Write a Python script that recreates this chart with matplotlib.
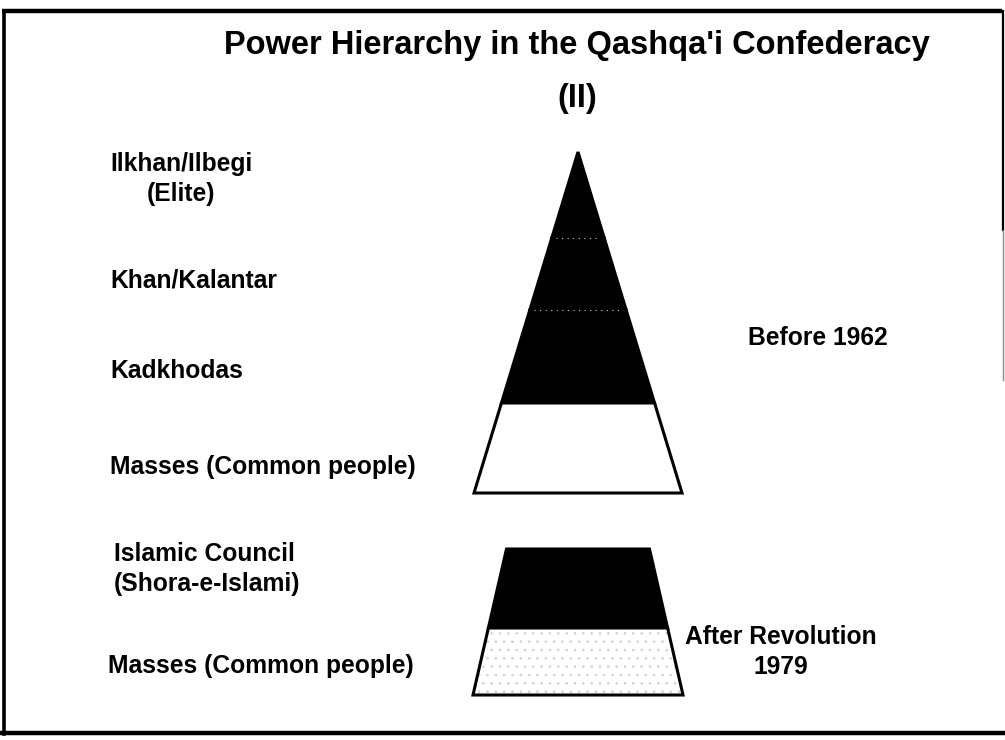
import matplotlib
matplotlib.use("Agg")
import matplotlib.pyplot as plt
from matplotlib.patches import Polygon

plt.rcParams['font.family'] = ['Liberation Sans', 'DejaVu Sans']
plt.rcParams['hatch.linewidth'] = 0.6

# ---------------- data ----------------
title_lines = ["Power Hierarchy in the Qashqa'i Confederacy", "(II)"]

before_labels = ["Ilkhan/Ilbegi\n(Elite)", "Khan/Kalantar", "Kadkhodas", "Masses (Common people)"]
before_bounds = [0.0, 0.252, 0.463, 0.736, 1.0]          # fraction of pyramid height from apex
before_fill = ["black", "black", "black", "white"]
before_caption = "Before 1962"

after_labels = ["Islamic Council\n(Shora-e-Islami)", "Masses (Common people)"]
after_bounds = [0.0, 0.541, 1.0]                         # fraction of trapezoid height from top
after_fill = ["black", "white"]
after_hatch = [None, ".."]
after_caption = "After Revolution\n1979"

# ---------------- layout ----------------
W, H = 1005, 740
fig = plt.figure(figsize=(W / 100, H / 100), dpi=100)
ax = fig.add_axes([0, 0, 1, 1])
ax.set_xlim(0, W)
ax.set_ylim(H, 0)
ax.axis("off")

# frame
ax.plot([2, 1002], [11, 11], color="black", lw=3.2, solid_capstyle="butt")
ax.plot([4, 4], [11, 734], color="black", lw=2.6)
ax.plot([2, 1003], [733, 733], color="black", lw=3.2)
ax.plot([1003, 1003], [11, 230], color="black", lw=1.6)
ax.plot([1003, 1003], [230, 380], color="#888888", lw=1.0)

LABEL_FS = 17.7
TITLE_FS = 23.5

# title
ax.text(577, 54, title_lines[0], ha="center", va="baseline", fontsize=TITLE_FS, fontweight="bold")
ax.text(577, 107, title_lines[1], ha="center", va="baseline", fontsize=TITLE_FS, fontweight="bold")

# pyramid (before 1962)
apex_x, apex_y, base_y = 578, 152, 493
base_half = 104

def half_w(f):
    return base_half * f

for i, (lab, col) in enumerate(zip(before_labels, before_fill)):
    f0, f1 = before_bounds[i], before_bounds[i + 1]
    y0 = apex_y + f0 * (base_y - apex_y)
    y1 = apex_y + f1 * (base_y - apex_y)
    pts = [(apex_x - half_w(f0), y0), (apex_x + half_w(f0), y0),
           (apex_x + half_w(f1), y1), (apex_x - half_w(f1), y1)]
    ax.add_patch(Polygon(pts, closed=True, facecolor=col, edgecolor="black",
                         lw=2.2, joinstyle="miter"))
    if col == "black" and i > 0:
        ax.plot([apex_x - half_w(f0) + 4, apex_x + half_w(f0) - 4], [y0, y0],
                color="white", lw=0.8, ls=(0, (1, 4)), alpha=0.8)

# baselines of the last line of each label
before_label_y = [201, 287, 378, 474]
for lab, y in zip(before_labels, before_label_y):
    ax.text(110, y, lab, ha="left", va="baseline", fontsize=LABEL_FS, fontweight="bold",
            multialignment="center", linespacing=1.3)
ax.text(748, 345, before_caption, ha="left", va="baseline", fontsize=LABEL_FS, fontweight="bold")

# trapezoid (after revolution)
top_y, bot_y = 549, 695
top_half, bot_half = 71.5, 105
cx = 578

for i, (col, hat) in enumerate(zip(after_fill, after_hatch)):
    f0, f1 = after_bounds[i], after_bounds[i + 1]
    y0 = top_y + f0 * (bot_y - top_y)
    y1 = top_y + f1 * (bot_y - top_y)
    h0 = top_half + f0 * (bot_half - top_half)
    h1 = top_half + f1 * (bot_half - top_half)
    pts = [(cx - h0, y0), (cx + h0, y0), (cx + h1, y1), (cx - h1, y1)]
    if hat:
        ax.add_patch(Polygon(pts, closed=True, facecolor=col, edgecolor="#cfcfcf",
                             lw=0, hatch=hat))
        ax.add_patch(Polygon(pts, closed=True, facecolor="none", edgecolor="black",
                             lw=2.2, joinstyle="miter"))
    else:
        ax.add_patch(Polygon(pts, closed=True, facecolor=col, edgecolor="black",
                             lw=2.2, joinstyle="miter"))

after_label_y = [591, 673]
after_label_x = [114, 108]
for lab, x, y in zip(after_labels, after_label_x, after_label_y):
    ax.text(x, y, lab, ha="left", va="baseline", fontsize=LABEL_FS, fontweight="bold",
            multialignment="left", linespacing=1.3)
ax.text(781, 674, after_caption, ha="center", va="baseline", fontsize=LABEL_FS,
        fontweight="bold", multialignment="center", linespacing=1.3)

fig.savefig("out.png", dpi=100, facecolor="white")
